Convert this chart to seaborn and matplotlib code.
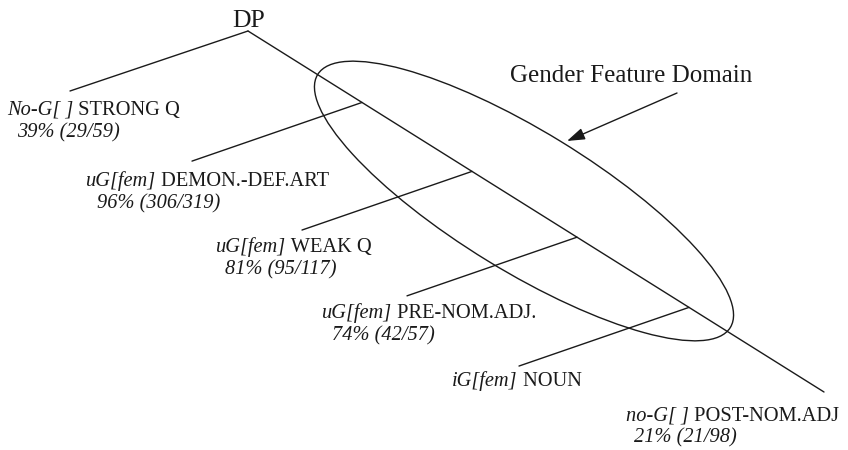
import numpy as np
import pandas as pd
import matplotlib
matplotlib.use("Agg")
import matplotlib.pyplot as plt
import seaborn as sns
from matplotlib.patches import Ellipse

sns.set_theme(style="white")
plt.rcParams['font.family'] = ['Liberation Serif', 'DejaVu Serif']

# ---- data ----
root_label = "DP"
features = ["No-G[ ]", "uG[fem]", "uG[fem]", "uG[fem]", "iG[fem]", "no-G[ ]"]
categories = ["STRONG Q", "DEMON.-DEF.ART", "WEAK Q", "PRE-NOM.ADJ.", "NOUN", "POST-NOM.ADJ"]
stats = ["39% (29/59)", "96% (306/319)", "81% (95/117)", "74% (42/57)", "", "21% (21/98)"]
domain_label = "Gender Feature Domain"

# ---- layout ----
W, H = 848, 450
fig = plt.figure(figsize=(W / 100, H / 100), dpi=100)
ax = fig.add_axes([0, 0, 1, 1])

apex = np.array([248.0, 31.0])
main_end = np.array([824.0, 392.0])
slope_main = (main_end[1] - apex[1]) / (main_end[0] - apex[0])
branch_x = [362, 472, 577, 689]
branch_dx = -170
branch_slope = -0.345

segs = []
segs.append((apex, np.array([70.0, 91.0])))
segs.append((apex, main_end))
for bx in branch_x:
    by = apex[1] + (bx - apex[0]) * slope_main
    ex = bx + branch_dx
    ey = by + branch_dx * branch_slope
    segs.append((np.array([bx, by]), np.array([ex, ey])))

rows = []
for i, (a, b) in enumerate(segs):
    rows.append(dict(seg=i, x=a[0], y=a[1]))
    rows.append(dict(seg=i, x=b[0], y=b[1]))
df = pd.DataFrame(rows)
sns.lineplot(data=df, x="x", y="y", units="seg", estimator=None, sort=False,
             color="#1a1a1a", lw=1.0, ax=ax, legend=False)
ax.set_xlim(0, W)
ax.set_ylim(H, 0)
ax.axis("off")

# ellipse (domain)
ell = Ellipse((524, 201), width=484, height=140, angle=31.5, fill=False,
              edgecolor="#1a1a1a", lw=1.0)
ax.add_patch(ell)

# arrow
ax.annotate("", xy=(567, 141), xytext=(677, 93),
            arrowprops=dict(arrowstyle="-|>,head_length=0.9,head_width=0.3",
                            color="#1a1a1a", lw=1.0, shrinkA=0, shrinkB=0))
ax.text(631, 82, domain_label, fontsize=18, ha="center", va="baseline", color="#1a1a1a")

# root
ax.text(249, 27, root_label, fontsize=18.5, ha="center", va="baseline", color="#1a1a1a")

fs = 14.7
fig.canvas.draw()
renderer = fig.canvas.get_renderer()

label_pos = [(7, 115), (86, 186), (216, 252), (322, 318), (452, 386), (626, 421)]
stat_off = [(10, 22), (11, 22), (9, 22), (10, 22), (0, 22), (8, 21)]
for (x, y), feat, cat, st, (sx, sy) in zip(label_pos, features, categories, stats, stat_off):
    t = ax.text(x, y, feat, fontsize=fs, style="italic", ha="left", va="baseline", color="#1a1a1a")
    w = t.get_window_extent(renderer).width
    ax.text(x + w, y, " " + cat, fontsize=fs, ha="left", va="baseline", color="#1a1a1a")
    if st:
        ax.text(x + sx, y + sy, st, fontsize=fs, style="italic", ha="left", va="baseline", color="#1a1a1a")

fig.savefig("out.png", dpi=100, facecolor="white")
